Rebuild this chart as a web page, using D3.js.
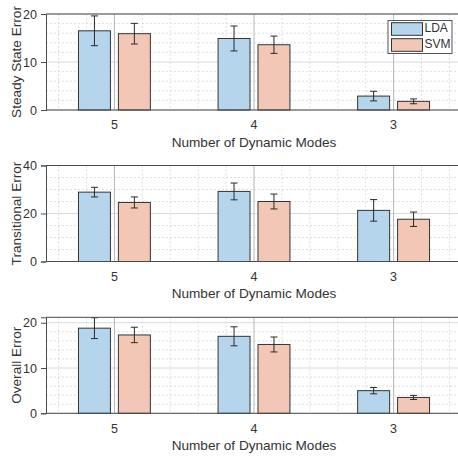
<!DOCTYPE html>
<html>
<head>
<meta charset="utf-8">
<script src="https://cdn.jsdelivr.net/npm/d3@7"></script>
<style>
  html, body { margin: 0; padding: 0; background: #fff; }
  svg { display: block; font-family: "Liberation Sans", Arial, sans-serif; }
</style>
</head>
<body>
<svg id="chart" width="458" height="457"></svg>
<script>
// Categories (number of dynamic modes) and the two classifiers
const categories = ["5", "4", "3"];
const seriesNames = ["LDA", "SVM"];
const seriesColors = ["#b4d5ec", "#f3c7b5"];

// Steady state error (mean and error-bar half-length)
const ldaSteady = [16.5, 14.9, 2.9];
const ldaSteadyErr = [3.1, 2.6, 1.0];
const svmSteady = [15.9, 13.6, 1.8];
const svmSteadyErr = [2.15, 1.8, 0.5];

// Transitional error
const ldaTrans = [28.9, 29.2, 21.3];
const ldaTransErr = [2.0, 3.5, 4.5];
const svmTrans = [24.6, 25.0, 17.6];
const svmTransErr = [2.3, 3.1, 3.0];

// Overall error
const ldaOverall = [18.8, 17.0, 5.0];
const ldaOverallErr = [2.3, 2.1, 0.7];
const svmOverall = [17.3, 15.2, 3.5];
const svmOverallErr = [1.7, 1.65, 0.45];

// Axis settings for each panel
const yLabels = ["Steady State Error", "Transitional Error", "Overall Error"];
const yLimits = [[0, 20], [0, 40], [0, 21.2]];
const yTicks = [[0, 10, 20], [0, 20, 40], [0, 10, 20]];
const yMinorStep = [2, 5, 2];
const xLabel = "Number of Dynamic Modes";

const panels = [
  { means: [ldaSteady, svmSteady], errs: [ldaSteadyErr, svmSteadyErr] },
  { means: [ldaTrans, svmTrans], errs: [ldaTransErr, svmTransErr] },
  { means: [ldaOverall, svmOverall], errs: [ldaOverallErr, svmOverallErr] }
];

const svg = d3.select("#chart");
const left = 46, right = 462;
const panelTops = [14, 165.5, 317.3];
const panelH = 96;
const textColor = "#333";
const axisColor = "#4a4a4a";

// Category positions on a 1..3 index axis
const x = d3.scaleLinear().domain([0.51, 3.49]).range([left, right]);
const barOffset = 0.143, barWidth = 0.229;

const minorX = [];
for (let v = 0.6; v < 3.45; v += 0.2) {
  if (Math.abs(v - Math.round(v)) > 1e-6) minorX.push(v);
}

panels.forEach((p, pi) => {
  const top = panelTops[pi], bottom = top + panelH;
  const y = d3.scaleLinear().domain(yLimits[pi]).range([bottom, top]);
  const g = svg.append("g");

  const clipId = "clip" + pi;
  svg.append("clipPath").attr("id", clipId)
    .append("rect").attr("x", left).attr("y", top)
    .attr("width", right - left).attr("height", panelH);

  const grid = g.append("g");
  // minor horizontal grid
  const minorY = d3.range(yLimits[pi][0], yLimits[pi][1] + 1e-6, yMinorStep[pi])
    .filter(v => !yTicks[pi].some(t => Math.abs(t - v) < 1e-6));
  grid.selectAll(".my").data(minorY).join("line")
    .attr("x1", left).attr("x2", right)
    .attr("y1", d => y(d)).attr("y2", d => y(d))
    .attr("stroke", "#d6d6d6").attr("stroke-width", 0.8)
    .attr("stroke-dasharray", "2,2");
  // minor vertical grid
  grid.selectAll(".mx").data(minorX).join("line")
    .attr("x1", d => x(d)).attr("x2", d => x(d))
    .attr("y1", top).attr("y2", bottom)
    .attr("stroke", "#d6d6d6").attr("stroke-width", 0.8)
    .attr("stroke-dasharray", "2,2");
  // major horizontal grid
  grid.selectAll(".My").data(yTicks[pi]).join("line")
    .attr("x1", left).attr("x2", right)
    .attr("y1", d => y(d)).attr("y2", d => y(d))
    .attr("stroke", "#d9d9d9").attr("stroke-width", 1);
  // major vertical grid at categories
  grid.selectAll(".Mx").data(categories).join("line")
    .attr("x1", (d, i) => x(i + 1)).attr("x2", (d, i) => x(i + 1))
    .attr("y1", top).attr("y2", bottom)
    .attr("stroke", "#b5b5b5").attr("stroke-width", 1);

  // bars
  const bars = g.append("g");
  p.means.forEach((vals, si) => {
    const off = si === 0 ? -barOffset : barOffset;
    bars.selectAll(".b" + si).data(vals).join("rect")
      .attr("x", (d, i) => x(i + 1 + off - barWidth / 2))
      .attr("width", x(barWidth) - x(0))
      .attr("y", d => y(d))
      .attr("height", d => y(0) - y(d))
      .attr("fill", seriesColors[si])
      .attr("stroke", "#333").attr("stroke-width", 1);
  });

  // error bars
  const eb = g.append("g").attr("clip-path", `url(#${clipId})`);
  p.means.forEach((vals, si) => {
    const off = si === 0 ? -barOffset : barOffset;
    vals.forEach((m, i) => {
      const e = p.errs[si][i];
      const cx = x(i + 1 + off);
      eb.append("line").attr("x1", cx).attr("x2", cx)
        .attr("y1", y(m - e)).attr("y2", y(m + e))
        .attr("stroke", "#2a2a2a").attr("stroke-width", 1);
      [m - e, m + e].forEach(v => {
        eb.append("line").attr("x1", cx - 3.5).attr("x2", cx + 3.5)
          .attr("y1", y(v)).attr("y2", y(v))
          .attr("stroke", "#2a2a2a").attr("stroke-width", 1);
      });
    });
  });

  // axes box
  g.append("line").attr("x1", left).attr("x2", right).attr("y1", top).attr("y2", top)
    .attr("stroke", axisColor).attr("stroke-width", 1);
  g.append("line").attr("x1", left).attr("x2", right).attr("y1", bottom).attr("y2", bottom)
    .attr("stroke", axisColor).attr("stroke-width", 1);

  // y axis
  const yAxis = d3.axisLeft(y).tickValues(yTicks[pi]).tickSize(5).tickPadding(4)
    .tickFormat(d3.format("d"));
  const ya = g.append("g").attr("transform", `translate(${left},0)`).call(yAxis);
  ya.select(".domain").attr("stroke", axisColor);
  ya.selectAll(".tick line").attr("stroke", axisColor);
  ya.selectAll(".tick text").attr("fill", textColor)
    .style("font-size", "12.5px").style("font-family", "Liberation Sans, Arial, sans-serif");

  // x axis tick labels
  const xa = g.append("g");
  xa.selectAll("text").data(categories).join("text")
    .attr("x", (d, i) => x(i + 1)).attr("y", bottom + 16)
    .attr("text-anchor", "middle").attr("dominant-baseline", "middle")
    .attr("fill", textColor).style("font-size", "12.5px")
    .text(d => d);

  // x axis label
  g.append("text").attr("x", (left + right) / 2).attr("y", bottom + 33)
    .attr("text-anchor", "middle").attr("dominant-baseline", "middle")
    .attr("fill", textColor).style("font-size", "13.6px")
    .text(xLabel);

  // y axis label
  g.append("text")
    .attr("transform", `translate(17,${(top + bottom) / 2}) rotate(-90)`)
    .attr("text-anchor", "middle").attr("dominant-baseline", "middle")
    .attr("fill", textColor).style("font-size", "13.6px")
    .text(yLabels[pi]);
});

// legend in the top panel
const lg = svg.append("g");
lg.append("rect").attr("x", 388).attr("y", 20.5).attr("width", 64).attr("height", 33)
  .attr("fill", "#fff").attr("stroke", "#555").attr("stroke-width", 1);
seriesNames.forEach((name, i) => {
  const yy = 22.7 + i * 16;
  lg.append("rect").attr("x", 391.5).attr("y", yy).attr("width", 31).attr("height", 12.6)
    .attr("fill", seriesColors[i]).attr("stroke", "#333").attr("stroke-width", 1);
  lg.append("text").attr("x", 424.5).attr("y", yy + 6.6)
    .attr("dominant-baseline", "middle").attr("fill", textColor)
    .style("font-size", "12px").text(name);
});
</script>
</body>
</html>
